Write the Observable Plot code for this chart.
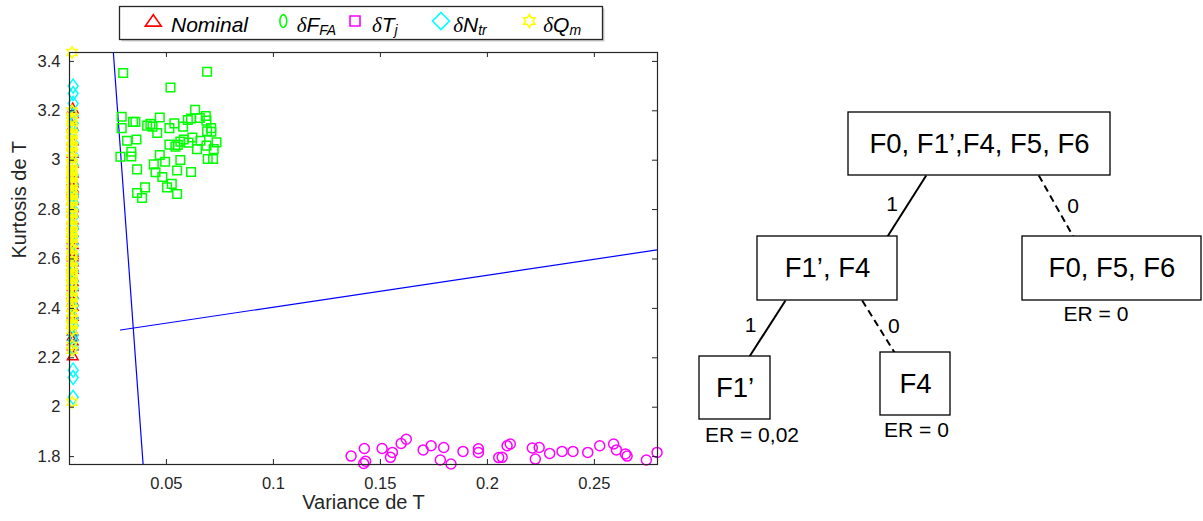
<!DOCTYPE html>
<html><head><meta charset="utf-8">
<script src="https://cdn.jsdelivr.net/npm/d3@7"></script>
<script src="https://cdn.jsdelivr.net/npm/@observablehq/plot@0.6"></script>
<style>
html,body{margin:0;padding:0;background:#fff;}
#page{position:relative;width:1203px;height:521px;overflow:hidden;font-family:"Liberation Sans",Arial,sans-serif;}
.layer{position:absolute;top:0;}
</style></head>
<body><div id="page"></div>
<script>
// ---------- data ----------
const xTicks = [0.05, 0.1, 0.15, 0.2, 0.25];
const xTickLabels = ["0.05", "0.1", "0.15", "0.2", "0.25"];
const yTicks = [1.8, 2, 2.2, 2.4, 2.6, 2.8, 3, 3.2, 3.4];
const yTickLabels = ["1.8", "2", "2.2", "2.4", "2.6", "2.8", "3", "3.2", "3.4"];
const xDomain = [0.0047, 0.2795];
const yDomain = [1.768, 3.436];
const xLabel = "Variance de T";
const yLabel = "Kurtosis de T";

const seriesMain = ["Nominal", "δF", "δT", "δN", "δQ"];
const seriesSub = ["", "FA", "j", "tr", "m"];
const seriesColors = ["#ff0000", "#00ff00", "#ff00ff", "#00ffff", "#ffff00"];

// Nominal (red triangles) – column at small variance
const nominalX = 0.0062;
const nominalY = [3.21, 3.19, 3.14, 3.08, 3.03, 2.99, 2.95, 2.92, 2.91, 2.89, 2.87, 2.84, 2.81, 2.79, 2.76, 2.74, 2.71, 2.68, 2.66, 2.63, 2.61, 2.59, 2.56, 2.53, 2.51, 2.49, 2.46, 2.43, 2.41, 2.38, 2.37, 2.31, 2.29, 2.27, 2.25, 2.21, 2.88, 2.62, 2.57];

// δF_FA (green squares)
const ffaX = [0.0298,0.0690,0.0519,0.0291,0.0291,0.0344,0.0355,0.0425,0.0435,0.0469,0.0457,0.0514,0.0537,0.0578,0.0600,0.0615,0.0634,0.0656,0.0684,0.0687,0.0709,0.0690,0.0316,0.0360,0.0336,0.0336,0.0285,0.0514,0.0553,0.0565,0.0581,0.0621,0.0659,0.0643,0.0687,0.0721,0.0734,0.0693,0.0718,0.0469,0.0494,0.0565,0.0441,0.0449,0.0481,0.0550,0.0615,0.0363,0.0503,0.0525,0.0400,0.0363,0.0386,0.0550,0.0542,0.0603,0.0410,0.0710];
const ffaY = [3.353,3.358,3.294,3.176,3.130,3.155,3.155,3.147,3.136,3.173,3.110,3.130,3.149,3.136,3.163,3.169,3.204,3.171,3.179,3.160,3.130,3.117,3.079,3.084,3.034,3.015,3.014,3.063,3.062,3.075,3.084,3.092,3.079,3.045,3.059,3.045,3.072,3.005,3.005,3.021,2.994,3.001,2.983,2.951,2.932,2.958,2.952,2.963,2.890,2.904,2.890,2.867,2.847,2.863,3.055,3.071,3.140,3.115];

// δT_j (magenta circles)
const tjX = [0.1363,0.1425,0.1422,0.1431,0.1508,0.1547,0.1556,0.1597,0.1621,0.1700,0.1737,0.1796,0.1780,0.1830,0.1886,0.1958,0.1958,0.2053,0.2069,0.2092,0.2107,0.2210,0.2242,0.2224,0.2291,0.2349,0.2400,0.2469,0.2525,0.2590,0.2603,0.2645,0.2653,0.2743,0.2793];
const tjY = [1.802,1.833,1.772,1.781,1.833,1.797,1.817,1.853,1.870,1.827,1.844,1.837,1.786,1.770,1.821,1.832,1.817,1.796,1.797,1.844,1.851,1.835,1.837,1.790,1.813,1.821,1.821,1.817,1.844,1.851,1.827,1.811,1.802,1.786,1.817];

// δN_tr (cyan diamonds)
const ntrX = 0.0064;
const ntrY = [3.30, 3.27, 3.23, 3.18, 3.15, 3.12, 3.07, 3.02, 2.98, 2.94, 2.90, 2.86, 2.83, 2.80, 2.77, 2.73, 2.69, 2.66, 2.62, 2.58, 2.55, 2.51, 2.48, 2.44, 2.41, 2.36, 2.33, 2.29, 2.27, 2.24, 2.15, 2.12, 2.04, 2.85, 2.72];

// δQ_m (yellow hexagrams)
const qmX = 0.0059;
const qmY = [3.436, 3.20, 3.17, 3.16, 3.13, 3.11, 3.10, 3.08, 3.06, 3.05, 3.03, 3.01, 2.99, 2.98, 2.96, 2.94, 2.93, 2.91, 2.90, 2.88, 2.86, 2.84, 2.83, 2.81, 2.79, 2.78, 2.76, 2.74, 2.73, 2.71, 2.69, 2.68, 2.66, 2.64, 2.62, 2.61, 2.59, 2.57, 2.56, 2.54, 2.52, 2.50, 2.49, 2.47, 2.45, 2.44, 2.42, 2.40, 2.38, 2.36, 2.34, 2.33, 2.31, 2.25, 2.23, 2.02, 2.87, 2.70, 2.53, 2.95];

// decision boundaries (blue lines)
const boundary1X = [0.0252, 0.0391];
const boundary1Y = [3.436, 1.768];
const boundary2X = [0.0285, 0.2800];
const boundary2Y = [2.3126, 2.6377];

// decision tree
const treeNodeLabels = ["F0, F1’,F4, F5, F6", "F1’, F4", "F0, F5, F6", "F1’", "F4"];
const treeNodeER = ["", "", "ER = 0", "ER = 0,02", "ER = 0"];
const treeEdgeFrom = [0, 0, 1, 1];
const treeEdgeTo = [1, 2, 3, 4];
const treeEdgeLabels = ["1", "0", "1", "0"];
const treeEdgeDashed = [false, true, false, true];

// ---------- layout (diagram space, pixels) ----------
const treeBoxes = [[158,420,112,175],[67,207,236,300],[332,511,236,300],[9,80,356,419],[190,260,352,415]];
const treeEdgeAnchorsX = [[235.7,197],[348.3,382.7],[95,59],[171.7,204]];
const treeEdgeLabelPos = [[201.7,204],[382.7,206],[60,325],[203.3,325.7]];
const treeERPos = [null, null, [405.5,313.5], [61.5,434.5], [226,430]];

const AX = "#262626";
const FONT = "'Liberation Sans', Arial, sans-serif";

// ---------- symbols ----------
function sym(kind, hw, hh) {
  return {draw(c) {
    if (kind === "tri") { c.moveTo(0,-hh); c.lineTo(hw,hh*0.82); c.lineTo(-hw,hh*0.82); c.closePath(); }
    else if (kind === "sq") { c.moveTo(-hw,-hh); c.lineTo(hw,-hh); c.lineTo(hw,hh); c.lineTo(-hw,hh); c.closePath(); }
    else if (kind === "dia") { c.moveTo(0,-hh); c.lineTo(hw,0); c.lineTo(0,hh); c.lineTo(-hw,0); c.closePath(); }
    else if (kind === "circ") { c.moveTo(hw,0); c.arc(0,0,hw,0,2*Math.PI); }
    else if (kind === "ell") { for (let k=0;k<=36;k++){const a=k*Math.PI/18; const px=hw*Math.cos(a), py=hh*Math.sin(a); k? c.lineTo(px,py):c.moveTo(px,py);} c.closePath(); }
    else if (kind === "hex") { for (let k=0;k<12;k++){const a=-Math.PI/2+k*Math.PI/6; const f=k%2?1/Math.sqrt(3):1; const px=hw*f*Math.cos(a), py=hh*f*Math.sin(a); k? c.lineTo(px,py):c.moveTo(px,py);} c.closePath(); }
  }};
}
const plotSymbols = [sym("tri",5.3,5.3), sym("sq",4.3,4.3), sym("circ",5,5), sym("dia",5,7), sym("hex",5.8,5.8)];
const legendSymbols = [sym("tri",8,6.3), sym("ell",3.4,6.3), sym("sq",5,5), sym("dia",8.5,8.5), sym("hex",6.5,6.5)];

// ---------- tables ----------
const seriesData = [
  nominalY.map(y => ({x: nominalX, y})),
  ffaX.map((x,i) => ({x, y: ffaY[i]})),
  tjX.map((x,i) => ({x, y: tjY[i]})),
  ntrY.map(y => ({x: ntrX, y})),
  qmY.map(y => ({x: qmX, y}))
];
const b1 = boundary1X.map((x,i) => ({x, y: boundary1Y[i]}));
const b2 = boundary2X.map((x,i) => ({x, y: boundary2Y[i]}));

const W = 680, H = 521, mL = 69, mR = 23, mT = 52, mB = 57;
const kx = (xDomain[1]-xDomain[0])/(W-mL-mR), ky = (yDomain[1]-yDomain[0])/(H-mT-mB);
const tickLen = 5;

const scatter = Plot.plot({
  width: W, height: H, marginLeft: mL, marginRight: mR, marginTop: mT, marginBottom: mB,
  style: {fontFamily: FONT, fontSize: "16.5px", color: AX, background: "transparent", overflow: "visible"},
  x: {domain: xDomain},
  y: {domain: yDomain},
  marks: [
    Plot.axisX({ticks: xTicks, tickFormat: d => xTickLabels[xTicks.indexOf(d)], tickSize: 0, tickPadding: 13, label: null, fill: AX}),
    Plot.axisY({ticks: yTicks, tickFormat: d => yTickLabels[yTicks.indexOf(d)], tickSize: 0, tickPadding: 9, label: null, fill: AX}),
    Plot.line(b1, {x: "x", y: "y", stroke: "#0000ff", strokeWidth: 1.2, clip: true}),
    Plot.line(b2, {x: "x", y: "y", stroke: "#0000ff", strokeWidth: 1.2, clip: true}),
    ...seriesData.map((d, i) => Plot.dot(d, {x: "x", y: "y", symbol: plotSymbols[i], r: 5, fill: "none", stroke: seriesColors[i], strokeWidth: 1.5})),
    Plot.frame({stroke: AX, strokeWidth: 1.2}),
    Plot.ruleX(xTicks, {x: d => d, y1: yDomain[0], y2: yDomain[0] + tickLen*ky, stroke: AX}),
    Plot.ruleX(xTicks, {x: d => d, y1: yDomain[1] - tickLen*ky, y2: yDomain[1], stroke: AX}),
    Plot.ruleY(yTicks, {y: d => d, x1: xDomain[0], x2: xDomain[0] + tickLen*kx, stroke: AX}),
    Plot.ruleY(yTicks, {y: d => d, x1: xDomain[1] - tickLen*kx, x2: xDomain[1], stroke: AX}),
    Plot.text([xLabel], {frameAnchor: "bottom", dy: 44, text: d => d, fontSize: 20, fill: AX}),
    Plot.text([yLabel], {frameAnchor: "left", dx: -50, rotate: -90, text: d => d, fontSize: 20, fill: AX})
  ]
});
scatter.classList.add("layer");
scatter.style.left = "0px";
document.getElementById("page").appendChild(scatter);

// ---------- legend ----------
const legendSymX = [153.3, 283.3, 355, 441, 529.3];
const legendTextX = [171, 296.7, 372, 453.3, 543.3];
const legend = d3.create("svg").attr("width", 680).attr("height", 48).attr("class", "layer").style("left", "0px");
legend.append("rect").attr("x", 121.5).attr("y", 8.5).attr("width", 483).attr("height", 33).attr("fill", "#cfcfcf");
legend.append("rect").attr("x", 119.5).attr("y", 6.5).attr("width", 483).attr("height", 33).attr("fill", "#fff").attr("stroke", AX).attr("stroke-width", 1.3);
seriesMain.forEach((name, i) => {
  legend.append("path").attr("d", d3.symbol(legendSymbols[i])()).attr("transform", `translate(${legendSymX[i]},21)`)
    .attr("fill", "none").attr("stroke", seriesColors[i]).attr("stroke-width", 1.6);
  const t = legend.append("text").attr("x", legendTextX[i]).attr("y", 31.7).attr("font-family", FONT).attr("font-size", 21).attr("font-style", "italic").attr("fill", "#000");
  if (name.startsWith("δ")) {
    t.append("tspan").attr("font-family", "'Liberation Serif', serif").text("δ");
    t.append("tspan").text(name.slice(1));
    t.append("tspan").attr("font-size", 14).attr("dy", 3).text(seriesSub[i]);
  } else {
    t.text(name);
  }
});
document.getElementById("page").appendChild(legend.node());

// ---------- decision tree ----------
const TW = 513, TH = 521;
const nodes = treeNodeLabels.map((label, i) => ({label, x1: treeBoxes[i][0], x2: treeBoxes[i][1], y1: treeBoxes[i][2], y2: treeBoxes[i][3], cx: (treeBoxes[i][0]+treeBoxes[i][1])/2, cy: (treeBoxes[i][2]+treeBoxes[i][3])/2}));
const edges = treeEdgeFrom.map((f, i) => ({x1: treeEdgeAnchorsX[i][0], y1: treeBoxes[f][3], x2: treeEdgeAnchorsX[i][1], y2: treeBoxes[treeEdgeTo[i]][2], label: treeEdgeLabels[i], lx: treeEdgeLabelPos[i][0], ly: treeEdgeLabelPos[i][1], dashed: treeEdgeDashed[i]}));
const ers = treeNodeER.map((t, i) => ({t, p: treeERPos[i]})).filter(d => d.t).map(d => ({t: d.t, x: d.p[0], y: d.p[1]}));

const tree = Plot.plot({
  width: TW, height: TH, margin: 0,
  style: {fontFamily: FONT, background: "transparent", overflow: "visible"},
  x: {domain: [0, TW], range: [0, TW], axis: null},
  y: {domain: [0, TH], range: [0, TH], axis: null},
  marks: [
    Plot.link(edges.filter(d => !d.dashed), {x1: "x1", y1: "y1", x2: "x2", y2: "y2", stroke: "#000", strokeWidth: 2}),
    Plot.link(edges.filter(d => d.dashed), {x1: "x1", y1: "y1", x2: "x2", y2: "y2", stroke: "#000", strokeWidth: 2, strokeDasharray: "7,4.5"}),
    Plot.rect(nodes, {x1: "x1", x2: "x2", y1: "y1", y2: "y2", fill: "#fff", stroke: "#000", strokeWidth: 1.3}),
    Plot.text(nodes, {x: "cx", y: "cy", text: "label", fontSize: 27.5, fill: "#000"}),
    Plot.text(edges, {x: "lx", y: "ly", text: "label", fontSize: 21, fill: "#000"}),
    Plot.text(ers, {x: "x", y: "y", text: "t", fontSize: 21, fill: "#000"})
  ]
});
tree.classList.add("layer");
tree.style.left = "690px";
document.getElementById("page").appendChild(tree);
</script></body></html>
